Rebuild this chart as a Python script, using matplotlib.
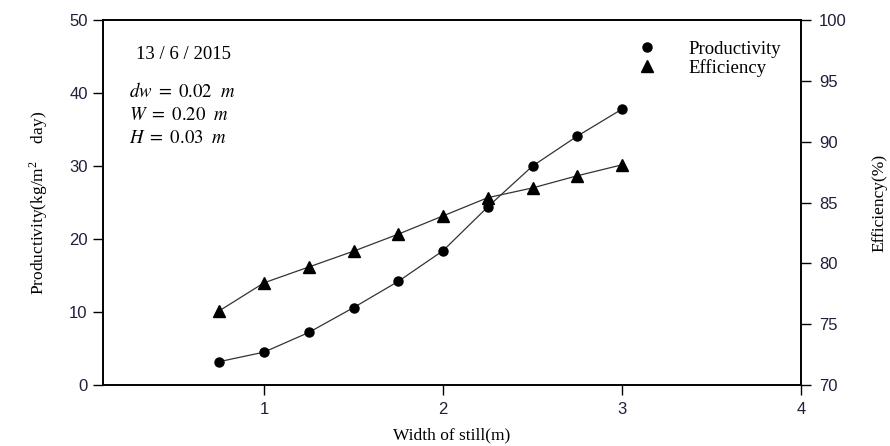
import matplotlib
matplotlib.use("Agg")
import matplotlib.pyplot as plt
from matplotlib.lines import Line2D

plt.rcParams['mathtext.fontset'] = 'stix'

width = [0.75, 1.0, 1.25, 1.5, 1.75, 2.0, 2.25, 2.5, 2.75, 3.0]
productivity = [3.2, 4.5, 7.2, 10.6, 14.2, 18.4, 24.4, 30.0, 34.1, 37.8]
efficiency = [76.1, 78.4, 79.7, 81.0, 82.4, 83.9, 85.4, 86.2, 87.2, 88.1]

tick_color = '#1f1f3a'
serif = 'Liberation Serif'
sans = 'Liberation Sans'

fig = plt.figure(figsize=(8.9, 4.46), dpi=100)
ax = fig.add_axes([0.1157, 0.1368, 0.7843, 0.8182])
ax2 = ax.twinx()

ax.plot(width, productivity, color='#333333', lw=0.9, marker='o', ms=6.5,
        mfc='black', mec='black', zorder=3)
ax2.plot(width, efficiency, color='#333333', lw=0.9, marker='^', ms=8.5,
         mfc='black', mec='black', zorder=3)

ax.set_xlim(0.1, 4)
ax.set_ylim(0, 50)
ax2.set_ylim(70, 100)
ax.set_xticks([1, 2, 3, 4])
ax.set_yticks([0, 10, 20, 30, 40, 50])
ax2.set_yticks([70, 75, 80, 85, 90, 95, 100])

for a in (ax, ax2):
    a.tick_params(direction='out', length=7, width=1, colors='black',
                  labelcolor=tick_color, labelsize=12)
    for lab in a.get_xticklabels() + a.get_yticklabels():
        lab.set_fontfamily(sans)
    for s in a.spines.values():
        s.set_linewidth(1.2)
ax.tick_params(axis='x', pad=5)
ax.tick_params(axis='y', pad=4)
ax2.tick_params(axis='y', pad=6)

ax.set_xlabel('Width of still(m)', fontfamily=serif, fontsize=12.5, labelpad=8)
ax.set_ylabel(r'Productivity(kg/m$^{\mathregular{2}}$    day)', fontfamily=serif,
              fontsize=12.5, labelpad=14)
ax2.set_ylabel('Efficiency(%)', fontfamily=serif, fontsize=12.5, labelpad=18)

ax.text(0.047, 0.905, '13 / 6 / 2015', transform=ax.transAxes,
        fontfamily=serif, fontsize=13.5, va='center')
params = [r'$dw\ =\ \mathrm{0.02}\ \ m$', r'$W\ =\ \mathrm{0.20}\ \ m$',
          r'$H\ =\ \mathrm{0.03}\ \ m$']
for i, t in enumerate(params):
    ax.text(0.038, 0.803 - i * 0.064, t, transform=ax.transAxes,
            fontfamily=serif, fontsize=13.5, va='center')

handles = [Line2D([], [], ls='none', marker='o', ms=6.5, color='black'),
           Line2D([], [], ls='none', marker='^', ms=8.5, color='black')]
leg = ax.legend(handles, ['Productivity', 'Efficiency'], loc='upper right',
                bbox_to_anchor=(0.995, 0.99), frameon=False,
                prop={'family': serif, 'size': 13.5}, handletextpad=1.2,
                labelspacing=0.05)

fig.savefig('out.png', dpi=100)
